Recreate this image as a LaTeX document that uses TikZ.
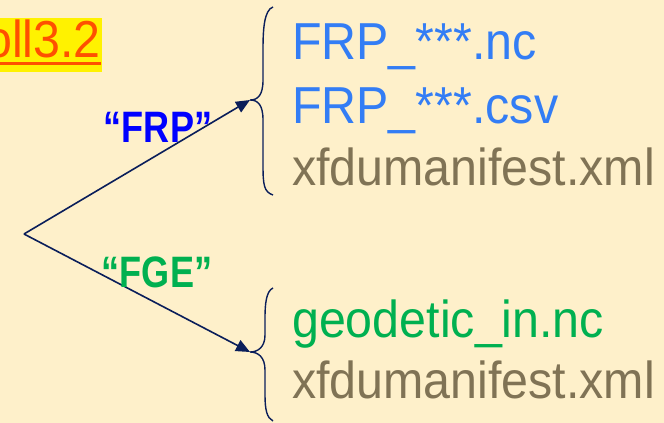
\documentclass[tikz,border=0pt]{standalone}
\usepackage{fontspec}
\setmainfont{Liberation Sans}
\newfontfamily\dinfont[FakeStretch=0.93]{Liberation Sans}
\newfontfamily\dinbold[FakeStretch=0.82]{Liberation Sans Bold}
\usetikzlibrary{arrows.meta}
\definecolor{bgc}{RGB}{254,240,202}
\definecolor{navy}{RGB}{10,30,90}
\definecolor{fblue}{RGB}{51,125,245}
\definecolor{olive}{RGB}{128,115,85}
\definecolor{fgreen}{RGB}{0,176,80}
\definecolor{orng}{RGB}{255,80,0}
\begin{document}
\begin{tikzpicture}[x=1pt,y=-1pt,
  fname/.style={anchor=base west,inner sep=0pt,font=\dinfont\fontsize{52}{52}\selectfont},
  lbl/.style={inner sep=0pt,font=\dinbold\fontsize{44}{44}\selectfont},
  conn/.style={navy,line width=1.6pt,-{Triangle[length=14pt,width=12pt]}},
  brc/.style={navy,line width=1.4pt}]
\fill[bgc] (0,0) rectangle (664,423);
\useasboundingbox (0,0) rectangle (664,423);
% title
\fill[yellow] (-10,18) rectangle (102,72);
\node[anchor=base east,inner sep=0pt,text=orng,font=\dinfont\fontsize{52}{52}\selectfont] (title) at (101,57) {oll3.2};
\draw[orng,line width=2.2pt] (-10,63.5) -- (101,63.5);
% connectors
\coordinate (o) at (24,234);
\coordinate (t1) at (250,100);
\coordinate (t2) at (250,352);
\draw[conn] (o) -- (t1);
\draw[conn] (o) -- (t2);
% braces
\draw[brc] (273,7) .. controls (264,10) and (263,30) .. (263,50) -- (263,80)
  .. controls (263,95) and (258,100) .. (t1)
  .. controls (258,100) and (263,105) .. (263,120) -- (263,165)
  .. controls (263,185) and (264,192) .. (273,195);
\draw[brc] (273,288) .. controls (266,291) and (265,305) .. (265,318) -- (265,335)
  .. controls (265,347) and (258,352) .. (t2)
  .. controls (258,352) and (265,357) .. (265,370) -- (265,395)
  .. controls (265,410) and (267,418) .. (273,421);
% labels
\node[lbl,text=blue] (frp) at (158,127) {“FRP”};
\node[lbl,text=fgreen] (fge) at (157,272) {“FGE”};
% file names
\node[fname,text=fblue] (f1) at (292,59) {FRP\_***.nc};
\node[fname,text=fblue] (f2) at (292,123) {FRP\_***.csv};
\node[fname,text=olive] (f3) at (292,185) {xfdumanifest.xml};
\node[fname,text=fgreen] (f4) at (292,337) {geodetic\_in.nc};
\node[fname,text=olive] (f5) at (292,398) {xfdumanifest.xml};
\end{tikzpicture}
\end{document}
